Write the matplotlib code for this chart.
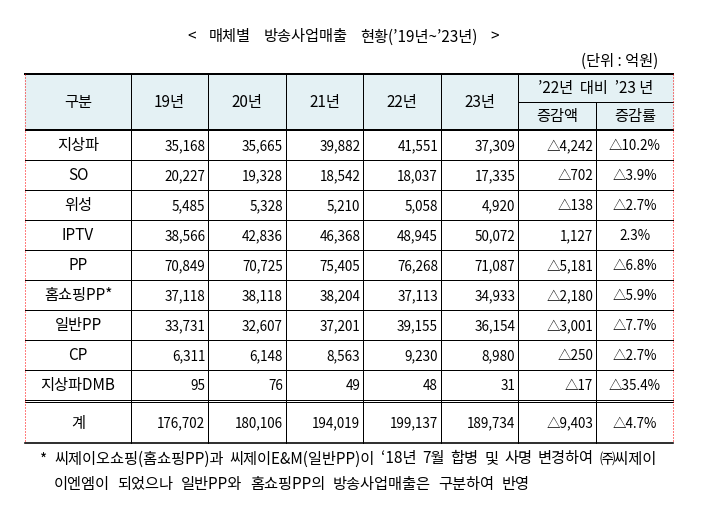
import matplotlib
matplotlib.use('Agg')
import matplotlib.pyplot as plt

plt.rcParams['font.family'] = ['Noto Sans CJK KR', 'DejaVu Sans']

# table data (억원)
categories = ['지상파', 'SO', '위성', 'IPTV', 'PP', '홈쇼핑PP*', '일반PP', 'CP', '지상파DMB']
y19 = [35168, 20227, 5485, 38566, 70849, 37118, 33731, 6311, 95]
y20 = [35665, 19328, 5328, 42836, 70725, 38118, 32607, 6148, 76]
y21 = [39882, 18542, 5210, 46368, 75405, 38204, 37201, 8563, 49]
y22 = [41551, 18037, 5058, 48945, 76268, 37113, 39155, 9230, 48]
y23 = [37309, 17335, 4920, 50072, 71087, 34933, 36154, 8980, 31]
diff = [-4242, -702, -138, 1127, -5181, -2180, -3001, -250, -17]
rate = [-10.2, -3.9, -2.7, 2.3, -6.8, -5.9, -7.7, -2.7, -35.4]

total_label = '계'
total_years = [176702, 180106, 194019, 199137, 189734]
total_diff = -9403
total_rate = -4.7

year_labels = ['19년', '20년', '21년', '22년', '23년']
title = '< 매체별 방송사업매출 현황(’19년~’23년) >'
unit = '(단위 : 억원)'
note1 = '씨제이오쇼핑(홈쇼핑PP)과 씨제이E&M(일반PP)이 ‘18년 7월 합병 및 사명 변경하여 ㈜씨제이'
note2 = '이엔엠이 되었으나 일반PP와 홈쇼핑PP의 방송사업매출은 구분하여 반영'

HEADER_BG = '#E4F1F4'
PX = 0.72  # 1 pixel in points


def fmt_num(v):
    return ('△' if v < 0 else '') + f'{abs(v):,}'


def fmt_pct(v):
    return ('△' if v < 0 else '') + f'{abs(v):.1f}%'


fig = plt.figure(figsize=(7.02, 5.10), dpi=100)
ax = fig.add_axes([0, 0, 1, 1])
ax.set_xlim(0, 702)
ax.set_ylim(510, 0)
ax.axis('off')
renderer = fig.canvas.get_renderer()

# layout in pixels
cols = [25.3, 130.7, 208.4, 286.0, 363.3, 441.0, 518.3, 596.3, 673.3]
top, mid_h, head_bot = 74.5, 102.7, 129.5
row_top = 131.0
row_h = 30.0
dbl_top = row_top + row_h * len(categories)
tot_top = dbl_top + 2.4
bottom = 443.7
fs_k = 11    # korean text
fs_n = 9.7   # numbers

# header background
ax.fill_between([cols[0], cols[-1]], top, head_bot, color=HEADER_BG, zorder=0)

# horizontal lines
ax.plot([cols[0], cols[-1]], [top, top], color='black', lw=2 * PX)
ax.plot([cols[6], cols[-1]], [mid_h, mid_h], color='black', lw=PX)
ax.plot([cols[0], cols[-1]], [head_bot, head_bot], color='black', lw=PX)
ax.plot([cols[0], cols[-1]], [row_top, row_top], color='black', lw=PX)
for i in range(1, len(categories)):
    y = row_top + row_h * i
    ax.plot([cols[0], cols[-1]], [y, y], color='black', lw=PX)
ax.plot([cols[0], cols[-1]], [dbl_top, dbl_top], color='black', lw=PX)
ax.plot([cols[0], cols[-1]], [tot_top, tot_top], color='black', lw=PX)
ax.plot([cols[0], cols[-1]], [bottom, bottom], color='black', lw=1.6 * PX)

# vertical lines
for i, x in enumerate(cols[1:-1], start=1):
    y0 = mid_h if i == 7 else top
    ax.plot([x, x], [y0, bottom], color='black', lw=PX)
for x in (cols[0], cols[-1]):
    ax.plot([x, x], [top, bottom], color='red', lw=PX, ls=(0, (1, 2)))

# header text
hy = (top + head_bot) / 2
ax.text((cols[0] + cols[1]) / 2, hy, '구분', ha='center', va='center', fontsize=fs_k)
for j, lab in enumerate(year_labels):
    ax.text((cols[j + 1] + cols[j + 2]) / 2, hy, lab, ha='center', va='center', fontsize=fs_k)
ax.text((cols[6] + cols[8]) / 2, (top + mid_h) / 2, '’22년  대비  ’23 년',
        ha='center', va='center', fontsize=fs_k)
ax.text((cols[6] + cols[7]) / 2, (mid_h + head_bot) / 2, '증감액', ha='center', va='center', fontsize=fs_k)
ax.text((cols[7] + cols[8]) / 2, (mid_h + head_bot) / 2, '증감률', ha='center', va='center', fontsize=fs_k)

pad = 3


def draw_row(yc, label, vals, d, r):
    ax.text((cols[0] + cols[1]) / 2, yc, label, ha='center', va='center', fontsize=fs_k)
    for j, v in enumerate(vals):
        ax.text(cols[j + 2] - pad, yc, fmt_num(v), ha='right', va='center', fontsize=fs_n)
    ax.text(cols[7] - pad, yc, fmt_num(d), ha='right', va='center', fontsize=fs_n)
    ax.text((cols[7] + cols[8]) / 2, yc, fmt_pct(r), ha='center', va='center', fontsize=fs_n)


for i, cat in enumerate(categories):
    yc = row_top + row_h * (i + 0.5)
    vals = [y19[i], y20[i], y21[i], y22[i], y23[i]]
    draw_row(yc, cat, vals, diff[i], rate[i])

draw_row((tot_top + bottom) / 2, total_label, total_years, total_diff, total_rate)


def justify(text, x0, x1, y, size):
    # spread the words of one line evenly between x0 and x1
    words = text.split(' ')
    arts = [ax.text(0, y, w, ha='left', va='center', fontsize=size) for w in words]
    inv = ax.transData.inverted()
    widths = []
    for a in arts:
        bb = a.get_window_extent(renderer)
        widths.append(inv.transform((bb.x1, bb.y0))[0] - inv.transform((bb.x0, bb.y0))[0])
    gap = (x1 - x0 - sum(widths)) / (len(words) - 1)
    x = x0
    for a, w in zip(arts, widths):
        a.set_x(x)
        x += w + gap


# title and unit
justify(title, 187, 499, 37, fs_k)
ax.text(658, 61, unit, ha='right', va='center', fontsize=fs_k)

# footnote
ax.text(40, 460, '*', ha='left', va='center', fontsize=fs_k)
justify(note1, 54, 657, 459, fs_k)
justify(note2, 54, 530, 485, fs_k)

fig.savefig('out.png', dpi=100)
